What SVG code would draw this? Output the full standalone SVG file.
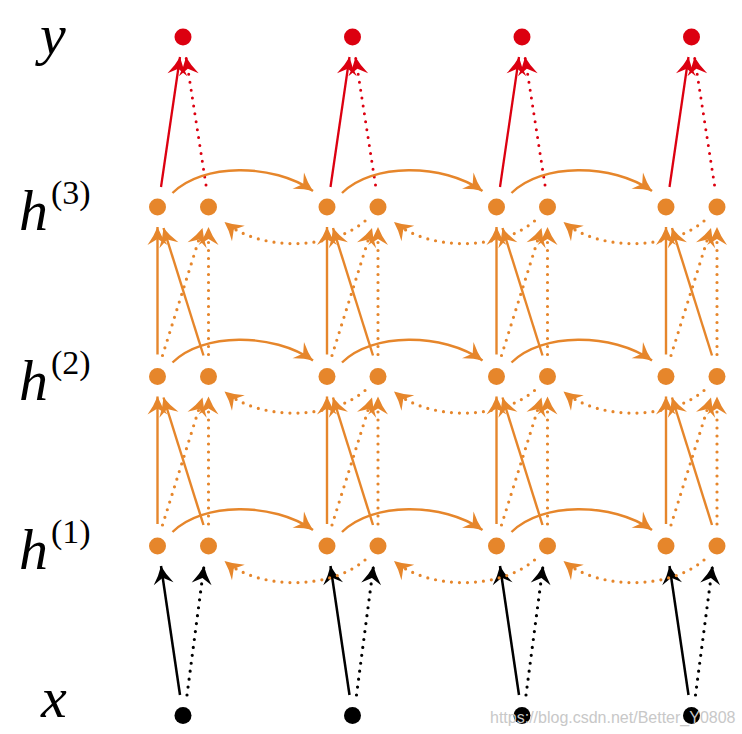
<svg xmlns="http://www.w3.org/2000/svg" width="742" height="734" viewBox="0 0 742 734">
<style>
.lbl{font-family:"Liberation Serif","Times New Roman",serif;font-style:italic;font-size:58px;fill:#000}
.sup{font-family:"Liberation Serif","Times New Roman",serif;font-size:34px;fill:#000}
.o{fill:#e6862b}
.r{fill:#dc0010}
.k{fill:#000}
.so{stroke:#e6862b;stroke-width:2.4;fill:none;marker-end:url(#mo)}
.do{stroke:#e6862b;stroke-width:3.2;fill:none;stroke-dasharray:0 8;stroke-linecap:round;marker-end:url(#mo)}
.sr{stroke:#dc0010;stroke-width:2.3;fill:none;marker-end:url(#mr)}
.dr{stroke:#dc0010;stroke-width:3;fill:none;stroke-dasharray:0 8;stroke-linecap:round;marker-end:url(#mr)}
.sk{stroke:#000;stroke-width:2.5;fill:none;marker-end:url(#mk)}
.dk{stroke:#000;stroke-width:3.2;fill:none;stroke-dasharray:0 8;stroke-linecap:round;marker-end:url(#mk)}
.wm{font-family:"Liberation Sans",Arial,sans-serif;font-size:16px;fill:#c8c8c8}
</style>
<defs>
<marker id="mo" viewBox="-20 -11 22 22" refX="0" refY="0" markerWidth="22" markerHeight="22" markerUnits="userSpaceOnUse" orient="auto"><path d="M0,0 Q-9,-3.5 -18,-10 L-12,0 L-18,10 Q-9,3.5 0,0 Z" fill="#e6862b"/></marker>
<marker id="mr" viewBox="-20 -11 22 22" refX="0" refY="0" markerWidth="22" markerHeight="22" markerUnits="userSpaceOnUse" orient="auto"><path d="M0,0 Q-9,-3.5 -18,-10 L-12,0 L-18,10 Q-9,3.5 0,0 Z" fill="#dc0010"/></marker>
<marker id="mk" viewBox="-20 -11 22 22" refX="0" refY="0" markerWidth="22" markerHeight="22" markerUnits="userSpaceOnUse" orient="auto"><path d="M0,0 Q-9,-3.5 -18,-10 L-12,0 L-18,10 Q-9,3.5 0,0 Z" fill="#000"/></marker>
</defs>
<rect width="742" height="734" fill="#fff"/>

<g id="labels">
<text class="lbl" x="40" y="54">y</text>
<text class="lbl" x="19" y="230">h</text><text class="sup" x="51" y="204">(3)</text>
<text class="lbl" x="19" y="399.5">h</text><text class="sup" x="51" y="373.5">(2)</text>
<text class="lbl" x="19" y="569">h</text><text class="sup" x="51" y="543">(1)</text>
<text class="lbl" x="41" y="717">x</text>
</g>

<g id="connectors">
<!-- red: h3 -> y -->
<path class="sr" d="M161,187 L180,57"/><path class="dr" d="M206,185 L186,57"/>
<path class="sr" d="M330.5,187 L349.5,57"/><path class="dr" d="M375.5,185 L355.5,57"/>
<path class="sr" d="M500,187 L519,57"/><path class="dr" d="M545,185 L525,57"/>
<path class="sr" d="M669.5,187 L688.5,57"/><path class="dr" d="M714.5,185 L694.5,57"/>
<!-- black: x -> h1 -->
<path class="sk" d="M180,695 L161,566"/><path class="dk" d="M187,695 L204,566"/>
<path class="sk" d="M349.5,695 L330.5,566"/><path class="dk" d="M356.5,695 L373.5,566"/>
<path class="sk" d="M519,695 L500,566"/><path class="dk" d="M526,695 L543,566"/>
<path class="sk" d="M688.5,695 L669.5,566"/><path class="dk" d="M695.5,695 L712.5,566"/>
<!-- h1 -> h2 -->
<path class="so" d="M157.5,524 L157.5,396.5"/><path class="so" d="M203.5,525 L163.5,397.5"/><path class="do" d="M162.5,525 L202.5,397.5"/><path class="do" d="M208.5,524 L208.5,396.5"/>
<path class="so" d="M327,524 L327,396.5"/><path class="so" d="M373,525 L333,397.5"/><path class="do" d="M332,525 L372,397.5"/><path class="do" d="M378,524 L378,396.5"/>
<path class="so" d="M496.5,524 L496.5,396.5"/><path class="so" d="M542.5,525 L502.5,397.5"/><path class="do" d="M501.5,525 L541.5,397.5"/><path class="do" d="M547.5,524 L547.5,396.5"/>
<path class="so" d="M666,524 L666,396.5"/><path class="so" d="M712,525 L672,397.5"/><path class="do" d="M671,525 L711,397.5"/><path class="do" d="M717,524 L717,396.5"/>
<!-- h2 -> h3 -->
<path class="so" d="M157.5,354.5 L157.5,227"/><path class="so" d="M203.5,355.5 L163.5,228"/><path class="do" d="M162.5,355.5 L202.5,228"/><path class="do" d="M208.5,354.5 L208.5,227"/>
<path class="so" d="M327,354.5 L327,227"/><path class="so" d="M373,355.5 L333,228"/><path class="do" d="M332,355.5 L372,228"/><path class="do" d="M378,354.5 L378,227"/>
<path class="so" d="M496.5,354.5 L496.5,227"/><path class="so" d="M542.5,355.5 L502.5,228"/><path class="do" d="M501.5,355.5 L541.5,228"/><path class="do" d="M547.5,354.5 L547.5,227"/>
<path class="so" d="M666,354.5 L666,227"/><path class="so" d="M712,355.5 L672,228"/><path class="do" d="M671,355.5 L711,228"/><path class="do" d="M717,354.5 L717,227"/>
<!-- forward arcs -->
<path class="so" d="M172.5,193 C202.5,163 273,163 313,191"/>
<path class="so" d="M342,193 C372,163 442.5,163 482.5,191"/>
<path class="so" d="M511.5,193 C541.5,163 612,163 652,191"/>
<path class="so" d="M172.5,362.5 C202.5,332.5 273,332.5 313,360.5"/>
<path class="so" d="M342,362.5 C372,332.5 442.5,332.5 482.5,360.5"/>
<path class="so" d="M511.5,362.5 C541.5,332.5 612,332.5 652,360.5"/>
<path class="so" d="M172.5,532 C202.5,502 273,502 313,530"/>
<path class="so" d="M342,532 C372,502 442.5,502 482.5,530"/>
<path class="so" d="M511.5,532 C541.5,502 612,502 652,530"/>
<!-- backward arcs -->
<path class="do" d="M365,221 C330,251 259.5,251 224.5,222"/>
<path class="do" d="M534.5,221 C499.5,251 429,251 394,222"/>
<path class="do" d="M704,221 C669,251 598.5,251 563.5,222"/>
<path class="do" d="M365,390.5 C330,420.5 259.5,420.5 224.5,391.5"/>
<path class="do" d="M534.5,390.5 C499.5,420.5 429,420.5 394,391.5"/>
<path class="do" d="M704,390.5 C669,420.5 598.5,420.5 563.5,391.5"/>
<path class="do" d="M365,560 C330,590 259.5,590 224.5,561"/>
<path class="do" d="M534.5,560 C499.5,590 429,590 394,561"/>
<path class="do" d="M704,560 C669,590 598.5,590 563.5,561"/>
</g>

<g id="y1"><circle class="r" cx="183" cy="37" r="8.5"/></g>
<g id="y2"><circle class="r" cx="352.5" cy="37" r="8.5"/></g>
<g id="y3"><circle class="r" cx="522" cy="37" r="8.5"/></g>
<g id="y4"><circle class="r" cx="691.5" cy="37" r="8.5"/></g>

<g id="h3f1"><circle class="o" cx="157.5" cy="207" r="8.5"/></g>
<g id="h3b1"><circle class="o" cx="208.5" cy="207" r="8.5"/></g>
<g id="h3f2"><circle class="o" cx="327" cy="207" r="8.5"/></g>
<g id="h3b2"><circle class="o" cx="378" cy="207" r="8.5"/></g>
<g id="h3f3"><circle class="o" cx="496.5" cy="207" r="8.5"/></g>
<g id="h3b3"><circle class="o" cx="547.5" cy="207" r="8.5"/></g>
<g id="h3f4"><circle class="o" cx="666" cy="207" r="8.5"/></g>
<g id="h3b4"><circle class="o" cx="717" cy="207" r="8.5"/></g>

<g id="h2f1"><circle class="o" cx="157.5" cy="376.5" r="8.5"/></g>
<g id="h2b1"><circle class="o" cx="208.5" cy="376.5" r="8.5"/></g>
<g id="h2f2"><circle class="o" cx="327" cy="376.5" r="8.5"/></g>
<g id="h2b2"><circle class="o" cx="378" cy="376.5" r="8.5"/></g>
<g id="h2f3"><circle class="o" cx="496.5" cy="376.5" r="8.5"/></g>
<g id="h2b3"><circle class="o" cx="547.5" cy="376.5" r="8.5"/></g>
<g id="h2f4"><circle class="o" cx="666" cy="376.5" r="8.5"/></g>
<g id="h2b4"><circle class="o" cx="717" cy="376.5" r="8.5"/></g>

<g id="h1f1"><circle class="o" cx="157.5" cy="546" r="8.5"/></g>
<g id="h1b1"><circle class="o" cx="208.5" cy="546" r="8.5"/></g>
<g id="h1f2"><circle class="o" cx="327" cy="546" r="8.5"/></g>
<g id="h1b2"><circle class="o" cx="378" cy="546" r="8.5"/></g>
<g id="h1f3"><circle class="o" cx="496.5" cy="546" r="8.5"/></g>
<g id="h1b3"><circle class="o" cx="547.5" cy="546" r="8.5"/></g>
<g id="h1f4"><circle class="o" cx="666" cy="546" r="8.5"/></g>
<g id="h1b4"><circle class="o" cx="717" cy="546" r="8.5"/></g>

<g id="x1"><circle class="k" cx="183" cy="715.5" r="8.5"/></g>
<g id="x2"><circle class="k" cx="352.5" cy="715.5" r="8.5"/></g>
<g id="x3"><circle class="k" cx="522" cy="715.5" r="8.5"/></g>
<g id="x4"><circle class="k" cx="691.5" cy="715.5" r="8.5"/></g>

<g id="watermark"><text class="wm" x="490" y="723">https://blog.csdn.net/Better_Y0808</text></g>
</svg>
